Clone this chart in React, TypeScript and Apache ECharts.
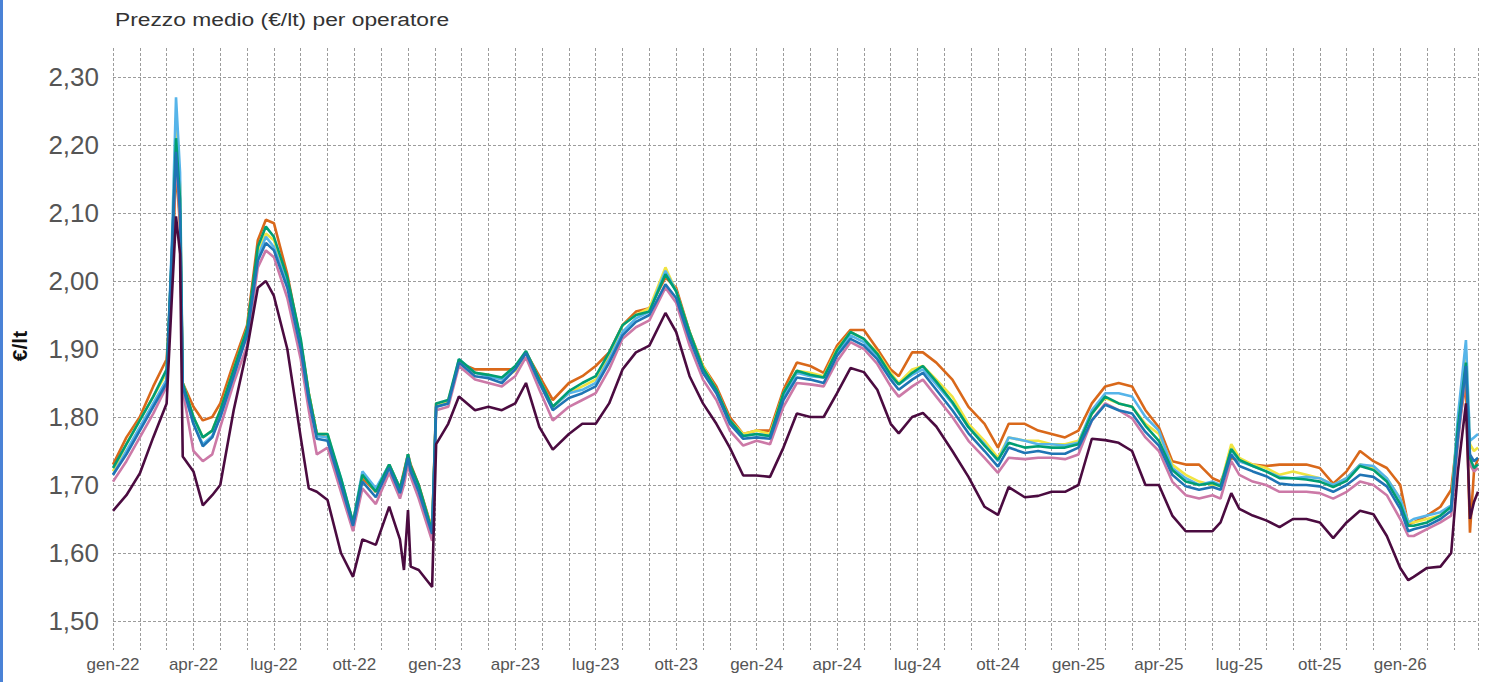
import React, { useEffect, useRef } from "react";
import * as echarts from "echarts";

// x positions in months since Jan 2022 (0 = gen-22)
const months = [
  0, 0.5, 1, 1.5, 2, 2.2, 2.35, 2.5, 2.6, 3,
  3.35, 3.7, 4, 4.5, 5, 5.4, 5.7, 6, 6.5, 7,
  7.3, 7.6, 8, 8.5, 8.95, 9.3, 9.8, 10.3, 10.7, 10.85,
  11.0, 11.1, 11.4, 11.9, 12.05, 12.5, 12.9, 13.5, 14, 14.5,
  15, 15.4, 15.9, 16.4, 17, 17.5, 18, 18.5, 19, 19.5,
  20, 20.6, 21, 21.5, 22, 22.5, 23, 23.5, 24, 24.5,
  25, 25.5, 26, 26.5, 27, 27.5, 28, 28.5, 29, 29.3,
  29.8, 30.2, 30.7, 31.3, 31.9, 32.5, 33, 33.4, 34, 34.5,
  35, 35.5, 36, 36.5, 37, 37.5, 38, 38.5, 39, 39.5,
  40, 40.5, 41, 41.3, 41.7, 42, 42.5, 43, 43.5, 44,
  44.5, 45, 45.5, 46, 46.5, 47, 47.5, 48, 48.3, 48.5,
  49, 49.5, 49.9, 50.15, 50.45, 50.6, 50.75, 50.9,
];

const blueValues = [
  1.715, 1.745, 1.78, 1.815, 1.85, 2.05, 2.19, 2.10, 1.845, 1.79,
  1.757, 1.77, 1.80, 1.86, 1.92, 2.03, 2.056, 2.045, 1.99, 1.90,
  1.825, 1.768, 1.765, 1.70, 1.64, 1.705, 1.682, 1.725, 1.688, 1.71,
  1.74, 1.72, 1.69, 1.628, 1.815, 1.82, 1.88, 1.86, 1.857, 1.85,
  1.87, 1.894, 1.85, 1.81, 1.828, 1.835, 1.845, 1.88, 1.92, 1.94,
  1.95, 1.995, 1.975, 1.915, 1.865, 1.835, 1.79, 1.768, 1.77, 1.768,
  1.825, 1.858, 1.855, 1.85, 1.89, 1.915, 1.905, 1.885, 1.855, 1.84,
  1.855, 1.865, 1.84, 1.81, 1.776, 1.75, 1.727, 1.755, 1.747, 1.75,
  1.746, 1.746, 1.755, 1.795, 1.818, 1.81, 1.805, 1.778, 1.758, 1.715,
  1.698, 1.693, 1.697, 1.693, 1.745, 1.728, 1.72, 1.713, 1.702, 1.70,
  1.70, 1.698, 1.69, 1.70, 1.715, 1.712, 1.698, 1.665, 1.632, 1.635,
  1.64, 1.65, 1.662, 1.77, 1.875, 1.745, 1.735, 1.74,
];

const purpleValues = [
  1.662, 1.685, 1.717, 1.77, 1.82, 1.98, 2.095, 2.04, 1.742, 1.72,
  1.67, 1.685, 1.70, 1.81, 1.90, 1.99, 2.0, 1.978, 1.90, 1.77,
  1.695, 1.69, 1.678, 1.60, 1.565, 1.62, 1.612, 1.668, 1.62, 1.575,
  1.663, 1.58, 1.575, 1.55, 1.76, 1.79, 1.83, 1.81, 1.815, 1.81,
  1.82, 1.85, 1.785, 1.752, 1.775, 1.79, 1.79, 1.82, 1.87, 1.895,
  1.905, 1.953, 1.925, 1.86, 1.82, 1.79, 1.755, 1.714, 1.714, 1.712,
  1.755, 1.805, 1.80, 1.80, 1.835, 1.872, 1.866, 1.84, 1.79, 1.776,
  1.80, 1.806, 1.786, 1.75, 1.712, 1.668, 1.656, 1.697, 1.682, 1.684,
  1.69, 1.69, 1.70, 1.768, 1.766, 1.762, 1.75, 1.70, 1.70, 1.655,
  1.632, 1.632, 1.632, 1.645, 1.688, 1.665, 1.655, 1.648, 1.638, 1.65,
  1.65, 1.645, 1.622, 1.645, 1.662, 1.657, 1.625, 1.578, 1.56, 1.565,
  1.578, 1.58, 1.60, 1.72, 1.82, 1.65, 1.675, 1.69,
];

const orangeValues = [
  1.73, 1.77, 1.80, 1.845, 1.885, 2.00, 2.17, 2.08, 1.85, 1.815,
  1.795, 1.80, 1.82, 1.88, 1.935, 2.06, 2.09, 2.085, 2.01, 1.91,
  1.835, 1.775, 1.77, 1.705, 1.645, 1.71, 1.69, 1.73, 1.695, 1.72,
  1.745, 1.73, 1.70, 1.635, 1.82, 1.82, 1.88, 1.87, 1.87, 1.87,
  1.87, 1.895, 1.86, 1.825, 1.85, 1.86, 1.875, 1.895, 1.935, 1.955,
  1.96, 2.005, 1.99, 1.925, 1.875, 1.845, 1.80, 1.775, 1.78, 1.78,
  1.84, 1.88, 1.875, 1.865, 1.905, 1.928, 1.928, 1.90, 1.87, 1.86,
  1.895, 1.895, 1.88, 1.855, 1.815, 1.79, 1.755, 1.79, 1.79, 1.78,
  1.775, 1.77, 1.78, 1.82, 1.845, 1.85, 1.845, 1.81, 1.785, 1.735,
  1.73, 1.73, 1.71, 1.705, 1.74, 1.735, 1.73, 1.728, 1.73, 1.73,
  1.73, 1.725, 1.702, 1.72, 1.75, 1.735, 1.725, 1.70, 1.642, 1.645,
  1.655, 1.668, 1.693, 1.78, 1.85, 1.63, 1.72, 1.74,
];

const yellowValues = [
  1.72, 1.76, 1.795, 1.83, 1.865, 2.04, 2.24, 2.14, 1.85, 1.80,
  1.77, 1.78, 1.81, 1.87, 1.93, 2.04, 2.07, 2.06, 2.00, 1.91,
  1.835, 1.775, 1.775, 1.705, 1.645, 1.715, 1.69, 1.73, 1.695, 1.715,
  1.745, 1.725, 1.695, 1.635, 1.815, 1.825, 1.88, 1.865, 1.862, 1.855,
  1.868, 1.895, 1.855, 1.815, 1.835, 1.845, 1.855, 1.89, 1.935, 1.95,
  1.96, 2.02, 1.985, 1.925, 1.875, 1.84, 1.795, 1.775, 1.78, 1.775,
  1.835, 1.868, 1.865, 1.86, 1.90, 1.925, 1.915, 1.895, 1.865, 1.85,
  1.87, 1.875, 1.855, 1.83, 1.79, 1.765, 1.74, 1.77, 1.765, 1.765,
  1.76, 1.76, 1.765, 1.805, 1.828, 1.82, 1.815, 1.79, 1.775, 1.73,
  1.715, 1.705, 1.70, 1.70, 1.76, 1.74, 1.73, 1.725, 1.715, 1.72,
  1.715, 1.71, 1.70, 1.71, 1.73, 1.725, 1.71, 1.68, 1.645, 1.645,
  1.65, 1.655, 1.67, 1.79, 1.895, 1.76, 1.75, 1.755,
];

const lightBlueValues = [
  1.715, 1.75, 1.785, 1.82, 1.855, 2.06, 2.27, 2.16, 1.845, 1.79,
  1.76, 1.772, 1.80, 1.86, 1.925, 2.035, 2.065, 2.05, 1.995, 1.905,
  1.83, 1.772, 1.77, 1.71, 1.645, 1.72, 1.695, 1.73, 1.695, 1.715,
  1.745, 1.725, 1.695, 1.63, 1.815, 1.82, 1.885, 1.865, 1.86, 1.855,
  1.87, 1.895, 1.855, 1.815, 1.835, 1.84, 1.85, 1.885, 1.925, 1.945,
  1.955, 2.015, 1.985, 1.92, 1.87, 1.84, 1.795, 1.772, 1.775, 1.772,
  1.83, 1.865, 1.86, 1.858, 1.895, 1.92, 1.91, 1.89, 1.86, 1.848,
  1.862, 1.87, 1.848, 1.82, 1.785, 1.76, 1.735, 1.77, 1.765, 1.76,
  1.76, 1.758, 1.762, 1.81, 1.835, 1.835, 1.83, 1.80, 1.78, 1.725,
  1.71, 1.70, 1.705, 1.70, 1.752, 1.735, 1.728, 1.72, 1.712, 1.71,
  1.712, 1.71, 1.70, 1.71, 1.73, 1.728, 1.71, 1.68, 1.645, 1.65,
  1.655, 1.66, 1.67, 1.80, 1.913, 1.765, 1.77, 1.775,
];

const greenValues = [
  1.725, 1.76, 1.795, 1.83, 1.87, 2.04, 2.21, 2.12, 1.85, 1.80,
  1.77, 1.78, 1.81, 1.87, 1.93, 2.05, 2.08, 2.065, 2.005, 1.915,
  1.835, 1.775, 1.775, 1.71, 1.645, 1.715, 1.69, 1.73, 1.695, 1.718,
  1.745, 1.728, 1.70, 1.632, 1.82, 1.825, 1.885, 1.865, 1.862, 1.858,
  1.875, 1.897, 1.855, 1.815, 1.838, 1.85, 1.86, 1.895, 1.935, 1.95,
  1.955, 2.01, 1.985, 1.925, 1.872, 1.84, 1.795, 1.772, 1.775, 1.772,
  1.835, 1.868, 1.862, 1.858, 1.898, 1.925, 1.915, 1.893, 1.862, 1.848,
  1.865, 1.875, 1.852, 1.822, 1.785, 1.758, 1.737, 1.762, 1.755, 1.757,
  1.755, 1.755, 1.76, 1.805, 1.83, 1.82, 1.815, 1.787, 1.765, 1.722,
  1.705, 1.70, 1.703, 1.698, 1.753, 1.737, 1.728, 1.72, 1.71, 1.71,
  1.708, 1.705, 1.697, 1.706, 1.728, 1.722, 1.705, 1.672, 1.64, 1.64,
  1.645, 1.655, 1.668, 1.785, 1.88, 1.74, 1.725, 1.73,
];

const pinkValues = [
  1.705, 1.735, 1.77, 1.805, 1.845, 2.03, 2.18, 2.09, 1.84, 1.75,
  1.735, 1.745, 1.785, 1.85, 1.905, 2.02, 2.045, 2.035, 1.975, 1.885,
  1.81, 1.745, 1.755, 1.69, 1.632, 1.695, 1.672, 1.718, 1.68, 1.70,
  1.732, 1.712, 1.68, 1.618, 1.81, 1.815, 1.875, 1.855, 1.85, 1.845,
  1.86, 1.888, 1.84, 1.795, 1.815, 1.825, 1.835, 1.87, 1.915, 1.932,
  1.942, 1.99, 1.968, 1.905, 1.855, 1.825, 1.78, 1.758, 1.765, 1.76,
  1.815, 1.85, 1.848, 1.845, 1.882, 1.91, 1.90, 1.878, 1.845, 1.83,
  1.845, 1.855, 1.83, 1.80, 1.765, 1.74, 1.718, 1.74, 1.738, 1.74,
  1.74, 1.738, 1.745, 1.795, 1.82, 1.81, 1.798, 1.77, 1.75, 1.705,
  1.685, 1.68, 1.685, 1.68, 1.735, 1.715, 1.705, 1.70, 1.69, 1.69,
  1.69, 1.688, 1.68, 1.69, 1.705, 1.70, 1.685, 1.65, 1.625, 1.625,
  1.635, 1.645, 1.655, 1.76, 1.87, 1.73, 1.72, 1.725,
];

// tick labels every 3 months, starting at month 0
const tickLabels = [
  "gen-22", "apr-22", "lug-22", "ott-22",
  "gen-23", "apr-23", "lug-23", "ott-23",
  "gen-24", "apr-24", "lug-24", "ott-24",
  "gen-25", "apr-25", "lug-25", "ott-25",
  "gen-26",
];

const seriesDefs = [
  { name: "Operatore 1", color: "#D9681A", values: orangeValues },
  { name: "Operatore 2", color: "#F0E442", values: yellowValues },
  { name: "Operatore 3", color: "#CC79A7", values: pinkValues },
  { name: "Operatore 4", color: "#56B4E9", values: lightBlueValues },
  { name: "Operatore 5", color: "#009E73", values: greenValues },
  { name: "Operatore 6", color: "#1F74B4", values: blueValues },
  { name: "Operatore 7", color: "#4B0B40", values: purpleValues },
];

const FONT = "'Liberation Sans', Arial, Helvetica, sans-serif";
const X_MAX = 50.9;

export default function App() {
  const ref = useRef<HTMLDivElement>(null);

  useEffect(() => {
    if (!ref.current) return;
    const chart = echarts.init(ref.current, undefined, { renderer: "svg" });
    const gridLine = { show: true, lineStyle: { color: "#9c9c9c", type: [3, 2], width: 1 } };

    chart.setOption({
      animation: false,
      backgroundColor: "#ffffff",
      graphic: [
        { type: "rect", left: 0, top: 0, shape: { width: 3, height: 682 }, style: { fill: "#4A82D6" } },
        {
          type: "text",
          x: 115,
          y: 10,
          scaleX: 1.2,
          style: {
            text: "Prezzo medio (€/lt) per operatore",
            fontFamily: FONT,
            fontSize: 19,
            fill: "#333333",
            align: "left",
            verticalAlign: "top",
          },
        },
        {
          type: "text",
          x: 19,
          y: 346,
          rotation: Math.PI / 2,
          style: {
            text: "€/lt",
            fontFamily: FONT,
            fontSize: 21,
            fontWeight: "bold",
            fill: "#111111",
            align: "center",
            verticalAlign: "middle",
          },
        },
      ],
      grid: [
        { left: 113, right: 9, top: 77, bottom: 61 },
        { left: 113, right: 9, top: 48, bottom: 32 },
      ],
      xAxis: [
        {
          type: "value",
          gridIndex: 0,
          min: 0,
          max: X_MAX,
          interval: 1,
          axisLine: { show: false },
          axisTick: { show: false },
          splitLine: { show: false },
          axisLabel: {
            margin: 35,
            fontFamily: FONT,
            fontSize: 17,
            color: "#555555",
            formatter: (v: number) => {
              const r = Math.round(v);
              if (Math.abs(v - r) > 1e-6 || r % 3 !== 0) return "";
              return tickLabels[r / 3] ?? "";
            },
          },
        },
        {
          type: "value",
          gridIndex: 1,
          min: 0,
          max: X_MAX,
          interval: 1,
          axisLine: { show: false },
          axisTick: { show: false },
          axisLabel: { show: false },
          splitLine: gridLine,
        },
      ],
      yAxis: [
        {
          type: "value",
          gridIndex: 0,
          min: 1.5,
          max: 2.3,
          interval: 0.1,
          axisLine: { show: false },
          axisTick: { show: false },
          splitLine: gridLine,
          axisLabel: {
            margin: 14,
            fontFamily: FONT,
            fontSize: 26,
            color: "#555555",
            formatter: (v: number) => v.toFixed(2).replace(".", ","),
          },
        },
        {
          type: "value",
          gridIndex: 1,
          min: 0,
          max: 1,
          axisLine: { show: false },
          axisTick: { show: false },
          axisLabel: { show: false },
          splitLine: { show: false },
        },
      ],
      series: seriesDefs.map((s) => ({
        name: s.name,
        type: "line",
        xAxisIndex: 0,
        yAxisIndex: 0,
        showSymbol: false,
        symbol: "none",
        data: months.map((m, i) => [m, s.values[i]]),
        lineStyle: { color: s.color, width: 2.6 },
        itemStyle: { color: s.color },
      })),
    });

    return () => chart.dispose();
  }, []);

  return (
    <div style={{ position: "fixed", left: 0, top: 0, width: 1487, height: 682, background: "#fff" }}>
      <div ref={ref} style={{ width: 1487, height: 682 }} />
    </div>
  );
}
